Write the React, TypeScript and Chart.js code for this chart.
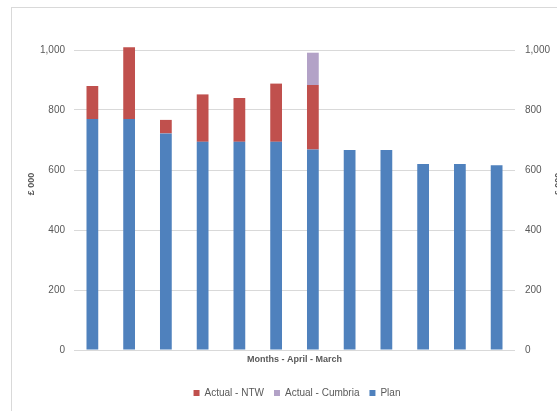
import React, { useEffect, useRef } from "react";
import { Chart, registerables } from "chart.js";

Chart.register(...registerables);

const months = ["Apr", "May", "Jun", "Jul", "Aug", "Sep", "Oct", "Nov", "Dec", "Jan", "Feb", "Mar"];
const planValues = [770, 770, 722, 694, 694, 694, 668, 667, 667, 620, 620, 616];
const ntwValues = [110, 239, 45, 158, 146, 194, 215, null, null, null, null, null];
const cumbriaValues = [null, null, null, null, null, null, 108, null, null, null, null, null];
const yTicks = [0, 200, 400, 600, 800, 1000];

const FONT = "'Liberation Sans', Arial, sans-serif";
const TEXT = "#595959";

const titlesPlugin = {
  id: "sideTitles",
  afterDraw(chart: any) {
    const ctx = chart.ctx;
    ctx.save();
    ctx.fillStyle = TEXT;
    ctx.font = `bold 9px ${FONT}`;
    ctx.textAlign = "center";
    ctx.textBaseline = "middle";
    const draw = (x: number, y: number) => {
      ctx.save();
      ctx.translate(x, y);
      ctx.rotate(-Math.PI / 2);
      ctx.fillText("£ 000", 0, 0);
      ctx.restore();
    };
    draw(31.5, 184);
    draw(559, 184);
    ctx.restore();
  },
};

export default function App() {
  const ref = useRef<HTMLCanvasElement>(null);
  useEffect(() => {
    if (!ref.current) return;
    const order = ["Actual - NTW", "Actual - Cumbria", "Plan"];
    const chart = new Chart(ref.current, {
      type: "bar",
      data: {
        labels: months,
        datasets: [
          { label: "Plan", data: planValues, backgroundColor: "#4f81bd", stack: "s", clip: false },
          { label: "Actual - NTW", data: ntwValues, backgroundColor: "#c0504d", stack: "s", clip: false },
          { label: "Actual - Cumbria", data: cumbriaValues, backgroundColor: "#b3a2c7", stack: "s", clip: false },
        ],
      },
      options: {
        responsive: false,
        animation: false,
        layout: { padding: { left: 37, right: 0, top: 50, bottom: 3 } },
        datasets: { bar: { categoryPercentage: 0.8, barPercentage: 0.4 } },
        plugins: {
          tooltip: { enabled: false },
          legend: {
            position: "bottom",
            labels: {
              boxWidth: 6,
              boxHeight: 6,
              padding: 10,
              color: TEXT,
              font: { family: FONT, size: 10 },
              sort: (a: any, b: any) => order.indexOf(a.text) - order.indexOf(b.text),
            },
          },
        },
        scales: {
          x: {
            stacked: true,
            grid: { display: false },
            border: { display: false },
            ticks: { display: false },
            title: {
              display: true,
              text: "Months - April - March",
              color: TEXT,
              font: { family: FONT, size: 9, weight: "bold" },
              padding: { top: 4, bottom: 12.6 },
            },
            afterFit: (s: any) => { s.height = 28; },
          },
          y: {
            stacked: true,
            position: "left",
            min: 0,
            max: 1000,
            afterBuildTicks: (s: any) => { s.ticks = yTicks.map((v) => ({ value: v })); },
            grid: { color: "#d9d9d9", drawTicks: false },
            border: { display: false },
            ticks: {
              padding: 9,
              color: TEXT,
              font: { family: FONT, size: 10 },
              callback: (v: any) => Number(v).toLocaleString("en-GB"),
            },
            afterFit: (s: any) => { s.width = 37; },
          },
          y2: {
            position: "right",
            min: 0,
            max: 1000,
            afterBuildTicks: (s: any) => { s.ticks = yTicks.map((v) => ({ value: v })); },
            grid: { display: false, drawTicks: false },
            border: { display: false },
            ticks: {
              padding: 10,
              color: TEXT,
              font: { family: FONT, size: 10 },
              callback: (v: any) => Number(v).toLocaleString("en-GB"),
            },
            afterFit: (s: any) => { s.width = 42; },
          },
        },
      },
      plugins: [titlesPlugin],
    } as any);
    return () => chart.destroy();
  }, []);
  return (
    <div style={{ position: "fixed", left: 0, top: 0, width: 557, height: 411, overflow: "hidden", background: "#fff" }}>
      <div
        style={{
          position: "absolute",
          left: 11,
          top: 7,
          width: 800,
          height: 800,
          border: "1px solid #d9d9d9",
          boxSizing: "border-box",
        }}
      />
      <canvas ref={ref} width={557} height={411} style={{ position: "absolute", left: 0, top: 0 }} />
    </div>
  );
}
